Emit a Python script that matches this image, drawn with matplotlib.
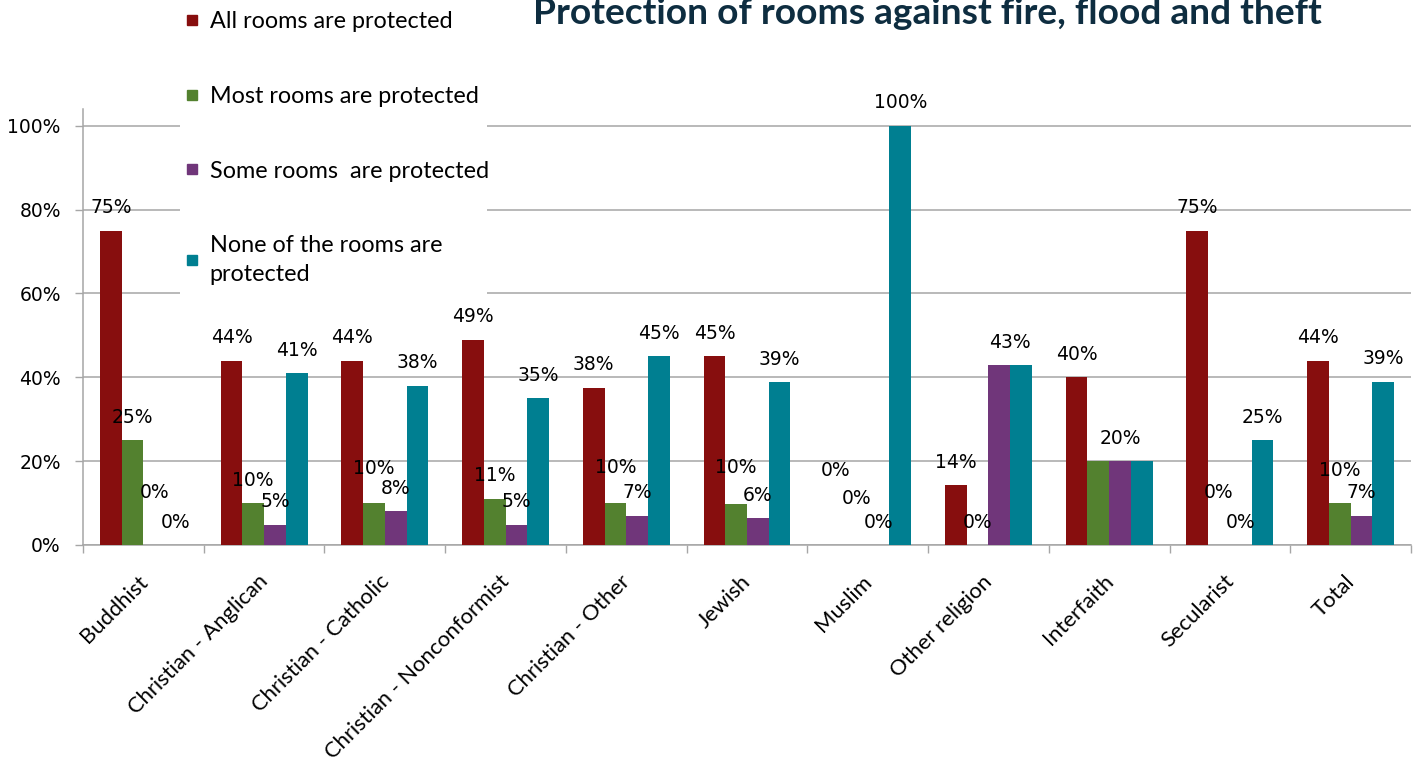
import numpy as np
import matplotlib
matplotlib.use("Agg")
import matplotlib.pyplot as plt
from matplotlib.lines import Line2D
from matplotlib.patches import Rectangle
from matplotlib.transforms import ScaledTranslation

# ---------------- data ----------------
categories = ["Buddhist", "Christian - Anglican", "Christian - Catholic",
              "Christian - Nonconformist", "Christian - Other", "Jewish",
              "Muslim", "Other religion", "Interfaith", "Secularist", "Total"]
series_names = ["All rooms are protected", "Most rooms are protected",
                "Some rooms  are protected", "None of the rooms are\nprotected"]
all_rooms = [75, 44, 44, 49, 37.5, 45, 0, 14.3, 40, 75, 44]
most_rooms = [25, 10, 10, 11, 10, 9.8, 0, 0, 20, 0, 10]
some_rooms = [0, 4.8, 8, 4.8, 7, 6.4, 0, 42.9, 20, 0, 7]
none_rooms = [0, 41, 38, 35, 45, 38.8, 100, 42.9, 20, 25, 39]
label_text = [
    ["75%", "44%", "44%", "49%", "38%", "45%", "0%", "14%", "40%", "75%", "44%"],
    ["25%", "10%", "10%", "11%", "10%", "10%", "0%", "0%", "20%", "0%", "10%"],
    ["0%", "5%", "8%", "5%", "7%", "6%", "0%", "43%", "20%", "0%", "7%"],
    ["0%", "41%", "38%", "35%", "45%", "39%", "100%", "43%", "20%", "25%", "39%"],
]
title = "Protection of rooms against fire, flood and theft"

# ---------------- style ----------------
colors = ["#870e0e", "#53812f", "#70367a", "#007f91"]
grid_c = "#a6a6a6"
DPI = 100
W, H = 1426, 760
# label adjustments in pixels (style only)
extra_dy = {(0, 2): 30, (2, 1): 12, (4, 1): 13, (5, 1): 13, (6, 0): 52,
            (6, 1): 24, (9, 1): 29, (10, 1): 10}
hidden = {(7, 2), (8, 1), (8, 3)}
extra_dx = {(7, 3): -11}

fig = plt.figure(figsize=(W / DPI, H / DPI), dpi=DPI)
ax = fig.add_axes([83 / W, (H - 545) / H, (1411 - 83) / W, (545 - 109) / H])

values = [np.array(all_rooms), np.array(most_rooms), np.array(some_rooms), np.array(none_rooms)]
x = np.arange(len(categories))
w = 0.18
px2pt = 72 / DPI
for j, vals in enumerate(values):
    xs = x + (j - 1.5) * w
    ax.bar(xs, vals / 100.0, width=w, color=colors[j], zorder=3, linewidth=0)
    for i, (xx, v) in enumerate(zip(xs, vals)):
        if (i, j) in hidden:
            continue
        dy = 23 + extra_dy.get((i, j), 0)
        dx = extra_dx.get((i, j), 0)
        ax.annotate(label_text[j][i], (xx, v / 100.0), xytext=(dx * px2pt, dy * px2pt),
                    textcoords="offset points", ha="center", va="center",
                    fontsize=13.5, family="DejaVu Sans", color="black", zorder=4)

ax.set_xlim(-0.5, len(categories) - 0.5)
ax.set_ylim(0, 1.04)
yt = np.arange(0, 1.01, 0.2)
ax.set_yticks(yt)
ax.set_yticklabels([f"{int(round(t * 100))}%" for t in yt], fontsize=13.5, family="DejaVu Sans")
ax.yaxis.grid(True, color=grid_c, linewidth=1.1, zorder=0)
ax.set_axisbelow(True)
ax.tick_params(axis="y", direction="out", length=6, width=1.0, color=grid_c, pad=10)

ax.set_xticks(np.arange(-0.5, len(categories), 1.0))
ax.set_xticklabels([])
ax.tick_params(axis="x", which="major", direction="out", length=6, width=1.0, color=grid_c)
ax.set_xticks(x, minor=True)
ax.set_xticklabels(categories, minor=True, rotation=45, ha="right", va="center",
                   rotation_mode="anchor", fontsize=15.8, family="Lato")
ax.tick_params(axis="x", which="minor", length=0, pad=24)
for lab in ax.get_xticklabels(minor=True):
    lab.set_transform(lab.get_transform() + ScaledTranslation(1 / DPI, 0, fig.dpi_scale_trans))

for s in ["top", "right"]:
    ax.spines[s].set_visible(False)
for s in ["left", "bottom"]:
    ax.spines[s].set_color(grid_c)
    ax.spines[s].set_linewidth(1.1)

# white legend background block (covers gridlines as in the reference)
fig.add_artist(Rectangle((180 / W, 1 - 298 / H), (487 - 180) / W, 298 / H,
                         transform=fig.transFigure, facecolor="white",
                         edgecolor="none", zorder=5))

handles = [Line2D([], [], marker="s", linestyle="none", markersize=7,
                  markerfacecolor=c, markeredgecolor=c) for c in colors]
leg = fig.legend(handles, series_names, loc="upper left",
                 bbox_to_anchor=(176 / W, 1 - 2 / H), frameon=False,
                 prop={"family": "Lato", "size": 16.8}, labelspacing=2.3,
                 handlelength=0.6, handletextpad=0.45, borderpad=0.4,
                 borderaxespad=0)
for t in leg.get_texts():
    t.set_linespacing(1.45)
leg.set_zorder(10)

fig.text(533 / W, 1 - 24 / H, title, ha="left", va="baseline",
         fontsize=26.7, fontweight="bold", family="Lato", color="#0e2d40")

fig.savefig("out.png", dpi=DPI)
